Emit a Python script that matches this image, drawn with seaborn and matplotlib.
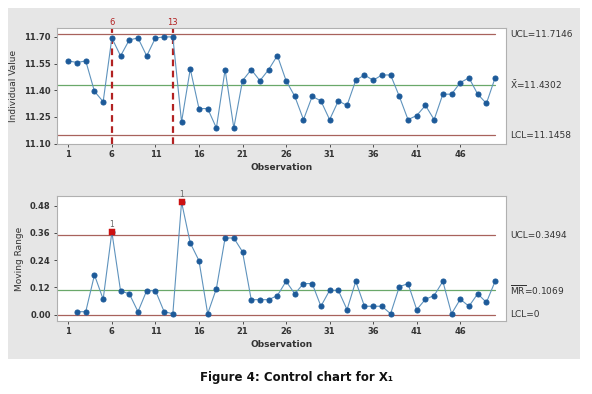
import numpy as np
import pandas as pd
import matplotlib
matplotlib.use("Agg")
import matplotlib.pyplot as plt
import seaborn as sns
from matplotlib.patches import Rectangle

# Datos
obs = list(range(1, 51))
individual = [11.565, 11.556, 11.565, 11.394, 11.336, 11.694, 11.593, 11.683, 11.694, 11.593,
              11.694, 11.700, 11.700, 11.222, 11.520, 11.297, 11.297, 11.188, 11.516, 11.188,
              11.454, 11.516, 11.454, 11.516, 11.595, 11.454, 11.366, 11.235, 11.366, 11.340,
              11.235, 11.340, 11.315, 11.456, 11.486, 11.456, 11.486, 11.486, 11.366, 11.235,
              11.258, 11.315, 11.235, 11.378, 11.378, 11.443, 11.470, 11.378, 11.326, 11.470]
mr_obs = list(range(2, 51))
moving_range = [0.013, 0.013, 0.175, 0.068, 0.364, 0.104, 0.092, 0.013, 0.106, 0.106,
                0.013, 0.004, 0.496, 0.316, 0.238, 0.004, 0.115, 0.338, 0.338, 0.277,
                0.066, 0.066, 0.066, 0.084, 0.147, 0.092, 0.137, 0.137, 0.037, 0.107,
                0.107, 0.022, 0.147, 0.037, 0.037, 0.037, 0.004, 0.123, 0.137, 0.022,
                0.068, 0.084, 0.147, 0.004, 0.068, 0.037, 0.092, 0.054, 0.147]
i_limits = {"UCL": 11.7146, "CL": 11.4302, "LCL": 11.1458}
mr_limits = {"UCL": 0.3494, "CL": 0.1069, "LCL": 0.0}
shift_obs = [6, 13]
mr_flag_obs = [6, 14]
xticks = [1, 6, 11, 16, 21, 26, 31, 36, 41, 46]

df_i = pd.DataFrame({"Observation": obs, "Value": individual})
df_mr = pd.DataFrame({"Observation": mr_obs, "MR": moving_range})
df_flag = df_mr[df_mr["Observation"].isin(mr_flag_obs)]

sns.set_theme(style="white")
plt.rcParams["font.family"] = ["DejaVu Sans"]

line_c = "#5f93bd"
mark_c = "#1d5a99"
lim_c = "#a8625c"
cl_c = "#6aa86a"
red_c = "#b22222"
txt_c = "#333333"

fig = plt.figure(figsize=(5.92, 3.94), dpi=100)
fig.patch.set_facecolor("white")
fig.patches.append(Rectangle((8 / 592, 1 - 359 / 394), 572 / 592, 351 / 394,
                             transform=fig.transFigure, facecolor="#e6e6e6",
                             edgecolor="none", zorder=-10))

ax1 = fig.add_axes([57 / 592, 1 - 144 / 394, 449 / 592, 116 / 394])
ax2 = fig.add_axes([57 / 592, 1 - 321 / 394, 449 / 592, 125 / 394])

# Grafica 1: valores individuales
ax = ax1
for k in ["UCL", "LCL"]:
    ax.plot([-0.3, 50], [i_limits[k]] * 2, color=lim_c, lw=0.9, zorder=1)
ax.plot([-0.3, 50], [i_limits["CL"]] * 2, color=cl_c, lw=0.9, zorder=1)
for s in shift_obs:
    ax.axvline(s, color=red_c, ls=(0, (3, 2)), lw=1.6, zorder=2)
    ax.text(s, 11.755, str(s), color=red_c, fontsize=6, ha="center", va="bottom")
sns.lineplot(data=df_i, x="Observation", y="Value", ax=ax, color=line_c, lw=0.8,
             marker="o", markersize=3.6, markerfacecolor=mark_c, markeredgecolor=mark_c,
             zorder=3)
ax.set_xlim(-0.3, 51.25)
ax.set_ylim(11.098, 11.75)
ax.set_yticks([11.10, 11.25, 11.40, 11.55, 11.70])
ax.set_yticklabels(["11.10", "11.25", "11.40", "11.55", "11.70"])
ax.set_ylabel("Individual Value", fontsize=6.5, color=txt_c)
ax.set_xlabel("Observation", fontsize=6.5, color=txt_c, fontweight="semibold")
ax.text(51.7, i_limits["UCL"], "UCL=11.7146", fontsize=6.5, va="center", color=txt_c)
ax.text(51.7, i_limits["CL"], r"$\bar{\mathrm{X}}$=11.4302", fontsize=6.5, va="center", color=txt_c)
ax.text(51.7, i_limits["LCL"], "LCL=11.1458", fontsize=6.5, va="center", color=txt_c)

# Grafica 2: rango movil
ax = ax2
for k in ["UCL", "LCL"]:
    ax.plot([-0.3, 50], [mr_limits[k]] * 2, color=lim_c, lw=0.9, zorder=1)
ax.plot([-0.3, 50], [mr_limits["CL"]] * 2, color=cl_c, lw=0.9, zorder=1)
sns.lineplot(data=df_mr, x="Observation", y="MR", ax=ax, color=line_c, lw=0.8,
             marker="o", markersize=3.6, markerfacecolor=mark_c, markeredgecolor=mark_c,
             zorder=3)
sns.scatterplot(data=df_flag, x="Observation", y="MR", ax=ax, marker="s", s=16,
                color="#cc1111", edgecolor="#cc1111", zorder=4)
for x, y in zip(df_flag["Observation"], df_flag["MR"]):
    ax.text(x, y + 0.012, "1", fontsize=5.5, color="#666666", ha="center", va="bottom")
ax.set_xlim(-0.3, 51.25)
ax.set_ylim(-0.028, 0.523)
ax.set_yticks([0.0, 0.12, 0.24, 0.36, 0.48])
ax.set_yticklabels(["0.00", "0.12", "0.24", "0.36", "0.48"])
ax.set_ylabel("Moving Range", fontsize=6.5, color=txt_c)
ax.set_xlabel("Observation", fontsize=6.5, color=txt_c, fontweight="semibold")
ax.text(51.7, mr_limits["UCL"], "UCL=0.3494", fontsize=6.5, va="center", color=txt_c)
ax.text(51.7, mr_limits["CL"], r"$\overline{\mathrm{MR}}$=0.1069", fontsize=6.5, va="center", color=txt_c)
ax.text(51.7, mr_limits["LCL"], "LCL=0", fontsize=6.5, va="center", color=txt_c)

for ax in (ax1, ax2):
    ax.set_facecolor("white")
    ax.set_xticks(xticks)
    ax.tick_params(axis="both", labelsize=6, colors=txt_c, length=2.5, width=0.6,
                   direction="out", bottom=True, left=True, pad=2)
    for lab in ax.get_xticklabels() + ax.get_yticklabels():
        lab.set_fontweight("semibold")
    for sp in ax.spines.values():
        sp.set_color("#b0b0b0")
        sp.set_linewidth(0.8)
    ax.xaxis.labelpad = 3
    ax.yaxis.labelpad = 4

fig.text(296 / 592, 1 - 377 / 394, "Figure 4: Control chart for X\u2081", fontsize=8.5,
         fontweight="bold", ha="center", va="center", color="#111111")

fig.savefig("out.png", dpi=100)
